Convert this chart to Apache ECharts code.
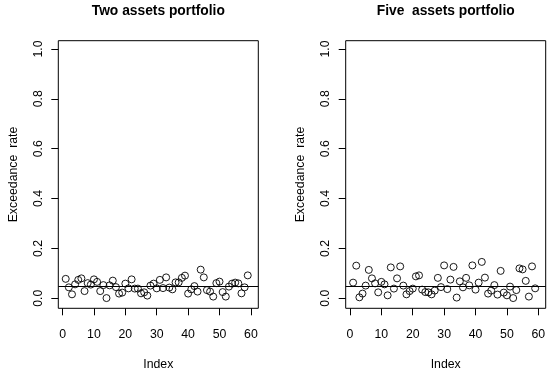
<!DOCTYPE html>
<html>
<head>
<meta charset="utf-8">
<script src="https://cdn.jsdelivr.net/npm/echarts@6/dist/echarts.min.js"></script>
<style>html,body{margin:0;padding:0;background:#fff;}#c{width:550px;height:371px;}</style>
</head>
<body>
<div id="c"></div>
<script>
const idx = [1,2,3,4,5,6,7,8,9,10,11,12,13,14,15,16,17,18,19,20,21,22,23,24,25,26,27,28,29,30,31,32,33,34,35,36,37,38,39,40,41,42,43,44,45,46,47,48,49,50,51,52,53,54,55,56,57,58,59];
const twoAssets = [0.078,0.044,0.016,0.056,0.074,0.080,0.029,0.061,0.055,0.076,0.066,0.029,0.053,0.001,0.052,0.071,0.045,0.019,0.023,0.059,0.040,0.076,0.039,0.039,0.020,0.024,0.011,0.051,0.059,0.040,0.074,0.041,0.084,0.043,0.036,0.064,0.064,0.082,0.091,0.019,0.036,0.049,0.027,0.115,0.084,0.033,0.027,0.007,0.061,0.067,0.025,0.007,0.047,0.059,0.063,0.060,0.020,0.044,0.092];
const fiveAssets = [0.063,0.131,0.004,0.019,0.051,0.114,0.080,0.060,0.024,0.066,0.056,0.012,0.124,0.039,0.080,0.128,0.051,0.016,0.029,0.039,0.088,0.092,0.035,0.025,0.024,0.016,0.031,0.082,0.045,0.132,0.037,0.075,0.126,0.003,0.068,0.044,0.082,0.052,0.132,0.035,0.063,0.146,0.083,0.019,0.031,0.053,0.015,0.110,0.023,0.012,0.047,0.001,0.033,0.120,0.116,0.070,0.007,0.128,0.040];
const refLevel = 0.05;
const xTickMin = 0, xTickMax = 60, xTickStep = 10;
const yTickMin = 0, yTickMax = 1, yTickStep = 0.2;
const titles = ['Two assets portfolio', 'Five  assets portfolio'];
const yName = 'Exceedance  rate';
const xName = 'Index';

(function () {
const FONT = 'Liberation Sans, Arial, Helvetica, sans-serif';
const FS = 12.3;
const TICK = 7;
const panels = [
  {left: 58.3, data: twoAssets},
  {left: 345.7, data: fiveAssets}
];
const gTop = 40.7, gWidth = 200, gHeight = 267.6;
const xMin = -1.36, xMax = 62.36, yMin = -0.04, yMax = 1.033;

const option = {
  backgroundColor: '#fff',
  animation: false,
  grid: [], xAxis: [], yAxis: [], series: [], graphic: []
};
const gridBase = {containLabel: false, outerBoundsMode: 'none'};
const hiddenAxis = (gi, extra) => Object.assign({type: 'value', gridIndex: gi, show: false,
  axisLine: {show: false, onZero: false}, splitLine: {show: false}, axisTick: {show: false}, axisLabel: {show: false}}, extra || {});
const tickLine = {show: true, showMinLine: true, showMaxLine: true, lineStyle: {color: '#000', width: 1, type: 'solid'}};

panels.forEach((p, i) => {
  // main box
  const g = option.grid.length;
  option.grid.push(Object.assign({left: p.left, top: gTop, width: gWidth, height: gHeight, show: true,
    borderColor: '#000', borderWidth: 1, backgroundColor: 'transparent'}, gridBase));
  option.xAxis.push({type: 'value', gridIndex: g, min: xMin, max: xMax, position: 'bottom',
    axisLine: {show: false, onZero: false}, splitLine: {show: false}, axisTick: {show: false}, axisLabel: {show: false},
    name: xName, nameLocation: 'middle', nameGap: 50,
    nameTextStyle: {color: '#000', fontSize: FS, fontFamily: FONT}});
  option.yAxis.push({type: 'value', gridIndex: g, min: yMin, max: yMax, position: 'left',
    axisLine: {show: false, onZero: false}, splitLine: {show: false}, axisTick: {show: false}, axisLabel: {show: false},
    name: yName, nameLocation: 'middle', nameGap: 39, nameRotate: 90,
    nameTextStyle: {color: '#000', fontSize: FS, fontFamily: FONT}});
  const mainX = option.xAxis.length - 1, mainY = option.yAxis.length - 1;

  // x tick strip below the box, same scale, ticks drawn as split lines
  const xl = p.left + (xTickMin - xMin) / (xMax - xMin) * gWidth;
  const xw = (xTickMax - xTickMin) / (xMax - xMin) * gWidth;
  const gx = option.grid.length;
  option.grid.push(Object.assign({left: xl, top: gTop + gHeight, width: xw, height: TICK}, gridBase));
  option.xAxis.push({
    type: 'value', gridIndex: gx, min: xTickMin, max: xTickMax, interval: xTickStep, position: 'bottom',
    axisLine: {show: false, onZero: false},
    splitLine: tickLine,
    axisTick: {show: false},
    axisLabel: {show: true, margin: 13, color: '#000', fontSize: FS, fontFamily: FONT, showMinLabel: true, showMaxLabel: true}
  });
  option.yAxis.push(hiddenAxis(gx, {min: 0, max: 1}));

  // y tick strip left of the box
  const yt = gTop + (yMax - yTickMax) / (yMax - yMin) * gHeight;
  const yh = (yTickMax - yTickMin) / (yMax - yMin) * gHeight;
  const gy = option.grid.length;
  option.grid.push(Object.assign({left: p.left - TICK, top: yt, width: TICK, height: yh}, gridBase));
  option.xAxis.push(hiddenAxis(gy, {min: 0, max: 1}));
  option.yAxis.push({
    type: 'value', gridIndex: gy, min: yTickMin, max: yTickMax, interval: yTickStep, position: 'left',
    axisLine: {show: false, onZero: false},
    splitLine: tickLine,
    axisTick: {show: false},
    axisLabel: {show: true, rotate: 90, margin: 7, color: '#000', fontSize: FS, fontFamily: FONT,
      showMinLabel: true, showMaxLabel: true, formatter: v => v.toFixed(1)}
  });

  option.series.push({
    type: 'scatter', xAxisIndex: mainX, yAxisIndex: mainY,
    data: idx.map((x, k) => [x, p.data[k]]),
    symbol: 'circle', symbolSize: 7,
    itemStyle: {color: 'rgba(0,0,0,0)', borderColor: '#000', borderWidth: 0.9, opacity: 1},
    emphasis: {disabled: true},
    markLine: {
      silent: true, symbol: ['none', 'none'], label: {show: false},
      lineStyle: {color: '#000', width: 1.2, type: 'solid'},
      data: [{yAxis: refLevel}]
    }
  });
  option.graphic.push({
    type: 'text', x: p.left + gWidth / 2, y: 11,
    style: {text: titles[i], fill: '#000', font: 'bold 13.8px ' + FONT, textAlign: 'center', textVerticalAlign: 'middle'}
  });
});
const chart = echarts.init(document.getElementById('c'), null, {renderer: 'canvas'});
chart.setOption(option);
})();
</script>
</body>
</html>
